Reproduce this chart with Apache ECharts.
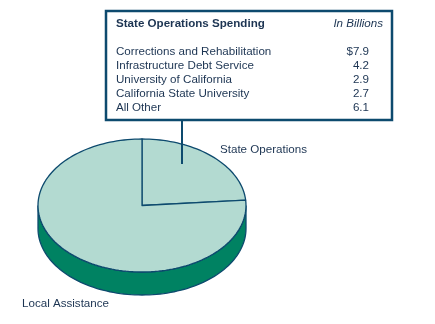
<!DOCTYPE html>
<html>
<head>
<meta charset="utf-8">
<script src="https://cdn.jsdelivr.net/npm/echarts@6/dist/echarts.min.js"></script>
<style>html,body{margin:0;padding:0;background:#fff}#c{width:435px;height:324px}</style>
</head>
<body>
<div id="c"></div>
<script>
// ---- data ----
var sliceNames = ['State Operations', 'Local Assistance'];
var sliceValues = [23.8, 76.6];           // billions (Local Assistance)
var tableTitle = 'State Operations Spending';
var tableUnit = 'In Billions';
var itemNames = ['Corrections and Rehabilitation', 'Infrastructure Debt Service', 'University of California', 'California State University', 'All Other'];
var itemValues = [7.9, 4.2, 2.9, 2.7, 6.1];

// ---- styles ----
var FONT = '"Liberation Sans", Arial, Helvetica, sans-serif';
var FS = '11.6px ';
var TEXT = '#1c3452';
var NAVY = '#0d4a6e';
var TOP = '#b3dad1';
var SIDE = '#008262';
var THICK = 23;

var total = sliceValues.reduce(function (a, b) { return a + b; }, 0);
var starts = [];
var acc = 0;
for (var i = 0; i < sliceValues.length; i++) {
  var a0 = 90 - acc / total * 360;
  acc += sliceValues[i];
  var a1 = 90 - acc / total * 360;
  starts.push([a0, a1]);
}

function renderItem(params, api) {
  var idx = params.dataIndex;
  var a0 = starts[idx][0], a1 = starts[idx][1];
  var pts = [api.coord([0, 0])];
  var steps = Math.max(4, Math.ceil((a0 - a1) / 2));
  for (var k = 0; k <= steps; k++) {
    var a = (a0 - (a0 - a1) * k / steps) * Math.PI / 180;
    pts.push(api.coord([Math.cos(a), Math.sin(a)]));
  }
  var children = [];
  var lo = a1, hi = a0;
  var segs = [];
  for (var off = -720; off <= 720; off += 360) {
    var s = Math.max(lo, -180 + off), e = Math.min(hi, 0 + off);
    if (e > s) segs.push([s, e]);
  }
  segs.forEach(function (sg) {
    var top = [], bot = [];
    var n = Math.max(4, Math.ceil((sg[1] - sg[0]) / 2));
    for (var k = 0; k <= n; k++) {
      var a = (sg[0] + (sg[1] - sg[0]) * k / n) * Math.PI / 180;
      var p = api.coord([Math.cos(a), Math.sin(a)]);
      top.push(p);
      bot.push([p[0], p[1] + THICK]);
    }
    var poly = top.concat(bot.reverse());
    children.push({
      type: 'polygon',
      shape: { points: poly },
      style: { fill: SIDE, stroke: NAVY, lineWidth: 1.3 }
    });
  });
  children.push({
    type: 'polygon',
    shape: { points: pts },
    style: { fill: TOP, stroke: NAVY, lineWidth: 1.3, lineJoin: 'round' }
  });
  return { type: 'group', children: children };
}

function txt(x, y, s, font, align) {
  return { type: 'text', x: x, y: y, z: 11,
    style: { text: s, font: font, fill: TEXT, textAlign: align || 'left', align: align || 'left',
      textVerticalAlign: 'middle', verticalAlign: 'middle' } };
}

var graphics = [
  { type: 'rect', shape: { x: 106, y: 11, width: 286, height: 109 },
    style: { fill: '#fff', stroke: NAVY, lineWidth: 2.5 }, z: 10 },
  { type: 'line', shape: { x1: 182, y1: 120, x2: 182, y2: 164 },
    style: { stroke: NAVY, lineWidth: 2 }, z: 10 },
  txt(116, 24, tableTitle, 'bold ' + FS + FONT),
  txt(383, 24, tableUnit, 'italic ' + FS + FONT, 'right'),
  txt(220, 150, sliceNames[0], FS + FONT),
  txt(22, 304, sliceNames[1], FS + FONT)
];
itemNames.forEach(function (nm, i) {
  var y = 52 + i * 14;
  graphics.push(txt(116, y, nm, FS + FONT));
  graphics.push(txt(369, y, (i === 0 ? '$' : '') + itemValues[i].toFixed(1), FS + FONT, 'right'));
});

var chart = echarts.init(document.getElementById('c'), null, { renderer: 'canvas' });
chart.setOption({
  animation: false,
  backgroundColor: '#fff',
  grid: { left: 38, top: 139, width: 208, height: 133 },
  xAxis: { type: 'value', min: -1, max: 1, show: false },
  yAxis: { type: 'value', min: -1, max: 1, show: false },
  graphic: graphics,
  series: [{
    type: 'custom',
    renderItem: renderItem,
    data: sliceNames.map(function (n, i) { return { name: n, value: [i, sliceValues[i]] }; }),
    silent: true
  }]
});
</script>
</body>
</html>
